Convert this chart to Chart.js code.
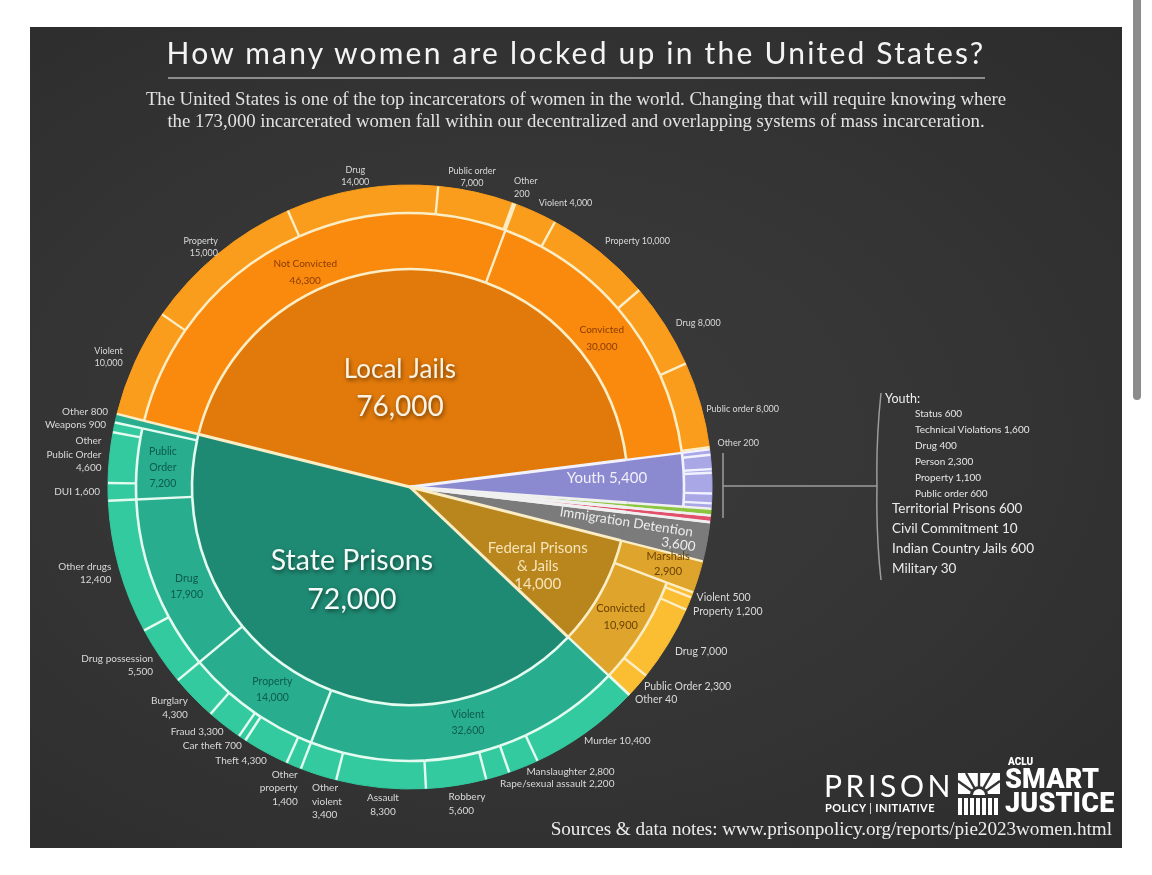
<!DOCTYPE html>
<html>
<head>
<meta charset="utf-8">
<script src="https://cdn.jsdelivr.net/npm/chart.js@4.4.1/dist/chart.umd.min.js"></script>
<style>
  html, body { margin: 0; padding: 0; width: 1152px; height: 875px; overflow: hidden; background: #fff; font-family: Lato, sans-serif; }
  #panel { position: absolute; left: 30px; top: 27px; width: 1092px; height: 821px;
    background: radial-gradient(ellipse at 45% 50%, #3b3b3b 0%, #353535 50%, #2c2c2c 100%); }
  #pie { position: absolute; left: 0; top: 0; }
  .t { position: absolute; white-space: nowrap; color: #e8e8e8; }
  #title { left: 30px; width: 1092px; top: 33px; text-align: center; font-size: 30px; letter-spacing: 2.2px; color: #f4f4f4; line-height: 38px; }
  #rule { position: absolute; left: 168px; top: 77px; width: 817px; height: 2px; background: #8c8c8c; }
  #sub { left: 30px; width: 1092px; top: 88px; text-align: center; font-family: "Liberation Serif", serif; font-size: 18.8px; line-height: 22px; color: #e2e2e2; letter-spacing: -0.05px; }
  #youthHead { left: 885px; top: 391px; font-size: 12.5px; color: #efefef; }
  #youthList { left: 915px; top: 405px; font-size: 10px; line-height: 16px; color: #e6e6e6; }
  #otherList { left: 892px; top: 498px; font-size: 13.5px; line-height: 20px; color: #ececec; }
  #source { right: 40px; top: 818px; font-family: "Liberation Serif", serif; font-size: 19.2px; color: #ececec; letter-spacing: -0.05px; }
  #prison { left: 824px; top: 767px; font-size: 30px; letter-spacing: 3.6px; color: #fff; font-weight: 400; }
  #ppi { left: 825px; top: 801px; font-size: 11px; letter-spacing: 0.4px; color: #fff; font-weight: 700; }
  #aclu { left: 1008px; top: 756px; font-size: 10px; font-weight: 900; color: #fff; font-family: Roboto, sans-serif; }
  #smart { left: 1005px; top: 767px; font-size: 27px; line-height: 24px; font-weight: 900; color: #fff; font-family: Roboto, sans-serif; letter-spacing: 0.2px; }
  #scroll { position: absolute; left: 1133px; top: -6px; width: 8px; height: 406px; border-radius: 4px; background: #8c8c8c; }
  svg.ov { position: absolute; left: 0; top: 0; }
</style>
</head>
<body>
<div id="panel"></div>
<canvas id="pie" width="1152" height="875"></canvas>
<svg class="ov" width="1152" height="875">
  <g stroke="#9c9c9c" stroke-width="1.5" fill="none">
    <line x1="723" y1="453" x2="723" y2="518"/>
    <line x1="723" y1="486" x2="877" y2="486"/>
    <path d="M881,393 Q876,440 877,486 Q876,535 881,580"/>
  </g>
  <g fill="#fff">
    <path d="M958,773 H1000 V794 H958 Z"/>
    <g stroke="#333" stroke-width="2.4">
      <line x1="979" y1="796" x2="958" y2="781"/>
      <line x1="979" y1="796" x2="966" y2="773"/>
      <line x1="979" y1="796" x2="979" y2="772"/>
      <line x1="979" y1="796" x2="992" y2="773"/>
      <line x1="979" y1="796" x2="1000" y2="781"/>
    </g>
    <path d="M970,795 A9,9 0 0 1 988,795 Z" fill="#333"/>
    <path d="M973,795 A6,6 0 0 1 985,795 Z" fill="#fff"/>
    <rect x="958" y="798" width="4" height="17"/>
    <rect x="964" y="798" width="4" height="17"/>
    <rect x="970" y="798" width="4" height="17"/>
    <rect x="976" y="798" width="4" height="17"/>
    <rect x="982" y="798" width="4" height="17"/>
    <rect x="988" y="798" width="4" height="17"/>
    <rect x="994" y="798" width="4" height="17"/>
  </g>
</svg>
<div id="title" class="t">How many women are locked up in the United States?</div>
<div id="rule"></div>
<div id="sub" class="t">The United States is one of the top incarcerators of women in the world. Changing that will require knowing where<br>the 173,000 incarcerated women fall within our decentralized and overlapping systems of mass incarceration.</div>
<div id="youthHead" class="t">Youth:</div>
<div id="youthList" class="t"></div>
<div id="otherList" class="t"></div>
<div id="prison" class="t">PRISON</div>
<div id="ppi" class="t">POLICY <span style="font-weight:400">|</span> INITIATIVE</div>
<div id="aclu" class="t">ACLU</div>
<div id="smart" class="t">SMART<br>JUSTICE</div>
<div id="source" class="t">Sources &amp; data notes: www.prisonpolicy.org/reports/pie2023women.html</div>
<div id="scroll"></div>
<script>
// inner ring: systems, clockwise from the State Prisons / Local Jails edge
const systems = ['Local Jails', 'Youth', 'Territorial Prisons', 'Civil Commitment', 'Indian Country Jails', 'Military', 'Immigration Detention', 'Federal Prisons & Jails', 'State Prisons'];
const systemValues = [76000, 5400, 600, 10, 600, 30, 3600, 14000, 72000];

// middle ring
const jailStatus = ['Not Convicted', 'Convicted'];
const jailStatusValues = [46300, 30000];
const fedStatus = ['Marshals', 'Convicted'];
const fedStatusValues = [2900, 10900];
const stateOffenses = ['Violent', 'Property', 'Drug', 'Public Order', 'Other'];
const stateOffenseValues = [32600, 14000, 17900, 7200, 800];

// outer ring
const jailOffenses = ['Violent', 'Property', 'Drug', 'Public order', 'Other'];
const notConvictedValues = [10000, 15000, 14000, 7000, 200];
const convictedJailValues = [4000, 10000, 8000, 8000, 200];
const youthOffenses = ['Status', 'Technical Violations', 'Drug', 'Person', 'Property', 'Public order'];
const youthValues = [600, 1600, 400, 2300, 1100, 600];
const fedOffenses = ['Violent', 'Property', 'Drug', 'Public Order', 'Other'];
const fedConvictedValues = [500, 1200, 7000, 2300, 40];
const violentTypes = ['Murder', 'Manslaughter', 'Rape/sexual assault', 'Robbery', 'Assault', 'Other violent'];
const violentValues = [10400, 2800, 2200, 5600, 8300, 3400];
const propertyTypes = ['Other property', 'Theft', 'Car theft', 'Fraud', 'Burglary'];
const propertyValues = [1400, 4300, 700, 3300, 4300];
const drugTypes = ['Drug possession', 'Other drugs'];
const drugValues = [5500, 12400];
const publicOrderTypes = ['DUI', 'Other Public Order', 'Weapons'];
const publicOrderValues = [1600, 4600, 900];

// colours: [inner, middle, outer]
const JAIL = { fill: ['#e27a0b', '#f98a0d', '#fa9d1c'], sep: '#fbeec6', ink: '#8a3a00' };
const STATE = { fill: ['#1f8a73', '#29ad8f', '#34caa0'], sep: '#e4fbf0', ink: '#0d5a4a' };
const FED = { fill: ['#b8861c', '#dfa42b', '#fbbd31'], sep: '#fbeec6', ink: '#6a4300' };
const YOUTH = { fill: ['#8b89cf', '#8b89cf', '#a9a7e6'], sep: '#f2f2ff' };
const IMM = { fill: ['#7b7b7b', '#7b7b7b', '#7b7b7b'], sep: '#f0f0f0' };
const smallColors = ['#8cc63f', '#f0f0f0', '#e2506c', '#f0f0f0'];

const fmt = n => n.toLocaleString('en-US');
// children are stretched to their parent's span so the rings line up
const fit = (vals, total) => {
  const sum = vals.reduce((a, b) => a + b, 0);
  return vals.map(v => v * total / sum);
};
const wrapName = { 'Other violent': 'Other\nviolent', 'Other property': 'Other\nproperty', 'Other Public Order': 'Other\nPublic Order' };
const oneLine = new Set(['Murder', 'Manslaughter', 'Rape/sexual assault', 'Theft', 'Car theft', 'Fraud', 'DUI', 'Weapons']);
// hand placement tweaks for the outside labels
const nudges = {
  'nc:Violent': [-5, 3], 'nc:Property': [5, 9], 'nc:Drug': [-5, 7], 'nc:Public order': [-6, 4], 'nc:Other': [-3, 3],
  'jc:Violent': [0, 4], 'jc:Drug': [4, 5], 'jc:Public order': [-2, 8], 'jc:Other': [0, -3],
  'fc:Violent': [-3, -3], 'fc:Property': [-3, 2], 'fc:Public Order': [0, -9], 'fc:Other': [0, -6],
  'st:Murder': [-7, -3], 'st:Manslaughter': [0, -9], 'st:Rape/sexual assault': [0, -6], 'st:Robbery': [-9, -3],
  'st:Assault': [3, -4], 'st:Other violent': [-4, 0], 'st:Other property': [7, -4], 'st:Theft': [5, -4],
  'st:Car theft': [4, -5], 'st:Fraud': [4, -5], 'st:Burglary': [0, -5], 'st:Drug possession': [0, -3], 'st:Other': [0, -3],
};
const aligns = { 'st:Other violent': 'left', 'st:Robbery': 'left', 'st:Rape/sexual assault': 'left' };
function outLabel(group, name, value, single, size) {
  const text = single || oneLine.has(name) ? `${name} ${fmt(value)}` : `${wrapName[name] || name}\n${fmt(value)}`;
  const key = `${group}:${name}`;
  return { type: 'out', lines: text.split('\n'), size, nudge: nudges[key], align: aligns[key] };
}
function midLabel(lines, size, color, extra) {
  return Object.assign({ type: 'mid', lines, size, color }, extra);
}

const inner = [], middle = [], outer = [];

// Local Jails
const [ncV, jcV] = fit(jailStatusValues, systemValues[0]);
inner.push({ v: systemValues[0], fill: JAIL.fill[0], sep: JAIL.sep,
  label: { type: 'mid', lines: [systems[0], fmt(systemValues[0])], size: [26, 28], lh: 38, r: 100, color: '#fbf3e4', shadow: true, nudge: [-16, 1] } });
middle.push({ v: ncV, fill: JAIL.fill[1], sep: JAIL.sep, label: midLabel([jailStatus[0], fmt(jailStatusValues[0])], 10, JAIL.ink, { lh: 17, nudge: [10, 3] }) });
middle.push({ v: jcV, fill: JAIL.fill[1], sep: JAIL.sep, label: midLabel([jailStatus[1], fmt(jailStatusValues[1])], 10, JAIL.ink, { lh: 17, nudge: [-1, 4] }) });
fit(notConvictedValues, ncV).forEach((v, i) => outer.push({ v, fill: JAIL.fill[2], sep: JAIL.sep, label: outLabel('nc', jailOffenses[i], notConvictedValues[i], false, 9) }));
fit(convictedJailValues, jcV).forEach((v, i) => outer.push({ v, fill: JAIL.fill[2], sep: JAIL.sep, label: outLabel('jc', jailOffenses[i], convictedJailValues[i], true, 9) }));

// Youth
inner.push({ v: systemValues[1], fill: YOUTH.fill[0], sep: YOUTH.sep,
  label: { type: 'mid', lines: [`${systems[1]} ${fmt(systemValues[1])}`], size: 15, r: 200, color: '#f1f0fb', nudge: [-3, -4] } });
middle.push({ v: systemValues[1], fill: YOUTH.fill[1], sep: YOUTH.sep, join: true });
fit(youthValues, systemValues[1]).forEach(v => outer.push({ v, fill: YOUTH.fill[2], sep: YOUTH.sep }));

// small systems
for (let i = 2; i <= 5; i++) {
  const c = smallColors[i - 2];
  inner.push({ v: systemValues[i], fill: c, sep: '#f0f0f0' });
  middle.push({ v: systemValues[i], fill: c, sep: '#f0f0f0', join: true });
  outer.push({ v: systemValues[i], fill: c, sep: '#f0f0f0', join: true });
}

// Immigration Detention
inner.push({ v: systemValues[6], fill: IMM.fill[0], sep: IMM.sep,
  label: { type: 'imm', lines: [systems[6], fmt(systemValues[6])], size: 13.5, r: 220, color: '#ededed', nudge: [0, -5] } });
middle.push({ v: systemValues[6], fill: IMM.fill[1], sep: IMM.sep, join: true });
outer.push({ v: systemValues[6], fill: IMM.fill[2], sep: IMM.sep, join: true });

// Federal
const [mV, fcV] = fit(fedStatusValues, systemValues[7]);
inner.push({ v: systemValues[7], fill: FED.fill[0], sep: FED.sep,
  label: { type: 'mid', lines: ['Federal Prisons', '& Jails', fmt(systemValues[7])], size: 15, lh: 18, r: 155, color: '#f6e3b7', nudge: [-8, 4] } });
middle.push({ v: mV, fill: FED.fill[1], sep: FED.sep, label: midLabel([fedStatus[0], fmt(fedStatusValues[0])], 11, FED.ink, { lh: 15, r: 262, nudge: [8, -1] }) });
middle.push({ v: fcV, fill: FED.fill[1], sep: FED.sep, label: midLabel([fedStatus[1], fmt(fedStatusValues[1])], 11, FED.ink, { lh: 17, nudge: [2, 0] }) });
outer.push({ v: mV, fill: FED.fill[1], sep: FED.sep, join: true });
fit(fedConvictedValues, fcV).forEach((v, i) => outer.push({ v, fill: FED.fill[2], sep: FED.sep, label: outLabel('fc', fedOffenses[i], fedConvictedValues[i], true, 10.5) }));

// State Prisons
const stateMid = fit(stateOffenseValues, systemValues[8]);
inner.push({ v: systemValues[8], fill: STATE.fill[0], sep: JAIL.sep,
  label: { type: 'mid', lines: [systems[8], fmt(systemValues[8])], size: [28.5, 28.5], lh: 39, r: 100, color: '#f2fbf7', shadow: true, nudge: [-10, 6] } });
const stateMidNudge = [[4, -4], [6, 3], [6, 11], [-2, 1]];
stateMid.forEach((v, i) => middle.push({ v, fill: STATE.fill[1], sep: STATE.sep,
  label: i < 4 ? midLabel(i === 3 ? ['Public', 'Order', fmt(stateOffenseValues[i])] : [stateOffenses[i], fmt(stateOffenseValues[i])], 10.5, STATE.ink, { lh: 16, nudge: stateMidNudge[i] }) : null }));
const stateLeaves = [[violentTypes, violentValues], [propertyTypes, propertyValues], [drugTypes, drugValues], [publicOrderTypes, publicOrderValues]];
stateLeaves.forEach(([names, vals], g) => {
  fit(vals, stateMid[g]).forEach((v, i) => outer.push({ v, fill: STATE.fill[2], sep: STATE.sep, label: outLabel('st', names[i], vals[i], false, 10) }));
});
outer.push({ v: stateMid[4], fill: STATE.fill[1], sep: STATE.sep, join: true, label: outLabel('st', stateOffenses[4], stateOffenseValues[4], true, 10) });

const rings = [outer, middle, inner];

// separator lines between slices and rings
const separators = {
  id: 'separators',
  afterDatasetsDraw(chart) {
    const ctx = chart.ctx;
    ctx.save();
    rings.forEach((ring, k) => {
      chart.getDatasetMeta(k).data.forEach((arc, i) => {
        const s = ring[i];
        const p = arc.getProps(['x', 'y', 'startAngle', 'endAngle', 'innerRadius', 'outerRadius'], true);
        ctx.strokeStyle = s.sep;
        ctx.lineWidth = k === 2 ? 3 : 2.4;
        ctx.beginPath();
        ctx.moveTo(p.x + p.innerRadius * Math.cos(p.startAngle), p.y + p.innerRadius * Math.sin(p.startAngle));
        ctx.lineTo(p.x + p.outerRadius * Math.cos(p.startAngle), p.y + p.outerRadius * Math.sin(p.startAngle));
        ctx.stroke();
        if (!s.join && p.innerRadius > 0) {
          ctx.lineWidth = 2.6;
          ctx.beginPath();
          ctx.arc(p.x, p.y, p.innerRadius, p.startAngle, p.endAngle);
          ctx.stroke();
        }
      });
    });
    ctx.restore();
  }
};

const sliceLabels = {
  id: 'sliceLabels',
  afterDraw(chart) {
    const ctx = chart.ctx;
    rings.forEach((ring, k) => {
      chart.getDatasetMeta(k).data.forEach((arc, i) => {
        const L = ring[i].label;
        if (!L) return;
        const p = arc.getProps(['x', 'y', 'startAngle', 'endAngle', 'innerRadius', 'outerRadius'], true);
        const a = (p.startAngle + p.endAngle) / 2;
        const c = Math.cos(a), s = Math.sin(a);
        const [nx, ny] = L.nudge || [0, 0];
        const sizes = L.lines.map((_, j) => Array.isArray(L.size) ? L.size[j] : L.size);
        const lh = L.lh || sizes[0] * 1.35;
        const h = lh * L.lines.length;
        ctx.save();
        ctx.fillStyle = L.color || '#d9d9d9';
        ctx.textBaseline = 'middle';
        if (L.type === 'out') {
          const r = p.outerRadius + (L.gap ?? 8);
          const x = p.x + r * c + nx, y = p.y + r * s + ny;
          ctx.textAlign = L.align || (c > 0.3 ? 'left' : c < -0.3 ? 'right' : 'center');
          const top = y - h * (1 - s) / 2;
          L.lines.forEach((t, j) => { ctx.font = `${sizes[j]}px Lato`; ctx.fillText(t, x, top + lh * (j + 0.5)); });
        } else if (L.type === 'imm') {
          ctx.translate(p.x + L.r * c + nx, p.y + L.r * s + ny);
          ctx.rotate(a - 0.028);
          ctx.font = `${sizes[0]}px Lato`;
          ctx.textAlign = 'center';
          ctx.fillText(L.lines[0], 0, 0);
          ctx.textAlign = 'right';
          ctx.fillText(L.lines[1], 72, 14);
        } else {
          const r = L.r ?? (p.innerRadius + p.outerRadius) / 2;
          const x = p.x + r * c + nx, y = p.y + r * s + ny;
          if (L.shadow) {
            ctx.shadowColor = 'rgba(0,0,0,0.55)'; ctx.shadowBlur = 4; ctx.shadowOffsetX = 1; ctx.shadowOffsetY = 2;
          }
          ctx.textAlign = 'center';
          const top = y - h / 2;
          L.lines.forEach((t, j) => { ctx.font = `${sizes[j]}px Lato`; ctx.fillText(t, x, top + lh * (j + 0.5)); });
        }
        ctx.restore();
      });
    });
  }
};

new Chart(document.getElementById('pie'), {
  type: 'pie',
  data: {
    datasets: rings.map((ring, k) => ({
      data: ring.map(s => s.v),
      backgroundColor: ring.map(s => s.fill),
      borderColor: ring.map(s => s.fill),
      borderWidth: 1,
      weight: [28, 56, 218][k],
    })),
  },
  options: {
    responsive: false,
    devicePixelRatio: 1,
    animation: false,
    events: [],
    radius: 302,
    rotation: 284,
    layout: { padding: { left: 0, right: 332, top: 99, bottom: 0 } },
    plugins: { legend: { display: false }, tooltip: { enabled: false } },
  },
  plugins: [separators, sliceLabels],
});

document.getElementById('youthList').innerHTML =
  youthOffenses.map((n, i) => `${n} ${fmt(youthValues[i])}`).join('<br>');
document.getElementById('otherList').innerHTML =
  [2, 3, 4, 5].map(i => `${systems[i]} ${fmt(systemValues[i])}`).join('<br>');
</script>
</body>
</html>
